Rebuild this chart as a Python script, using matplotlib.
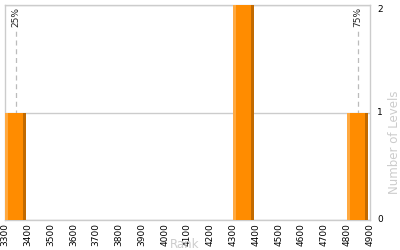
import matplotlib
matplotlib.use("Agg")
import matplotlib.pyplot as plt

bin_starts = [3300, 4300, 4800]
counts = [1, 2, 1]
percentile_labels = ["25%", "75%"]
percentile_values = [3348, 4848]
x_ticks = list(range(3300, 4901, 100))
y_ticks = [0, 1, 2]

fig = plt.figure(figsize=(4, 2.5), dpi=100)
ax = fig.add_axes([0.0125, 0.12, 0.9125, 0.86])

bw = 93
# main bars
ax.bar(bin_starts, counts, width=bw, align="edge", color="#FF8C00", zorder=3, linewidth=0)
# left highlight strip
ax.bar(bin_starts, counts, width=13, align="edge", color="#FFA940", zorder=4, linewidth=0)
# right shade strip
ax.bar([b + bw - 13 for b in bin_starts], counts, width=13, align="edge", color="#C26A00", zorder=4, linewidth=0)

for lab, v in zip(percentile_labels, percentile_values):
    ax.axvline(v, color="#BBBBBB", linestyle=(0, (4, 3)), linewidth=0.9, zorder=2, ymax=0.88)
    ax.text(v, 1.985, lab, rotation=90, ha="center", va="top", fontsize=6.5, color="#222222", zorder=5)

ax.set_xlim(3300, 4900)
ax.set_ylim(0, 2)
ax.set_xticks(x_ticks)
ax.set_xticklabels([str(t) for t in x_ticks], rotation=90, fontsize=6.5)
ax.set_yticks(y_ticks)
ax.set_yticklabels([str(t) for t in y_ticks], fontsize=6.5)
ax.yaxis.tick_right()
ax.tick_params(axis="both", length=0, pad=2)
ax.tick_params(axis="y", pad=5)
ylabels = ax.get_yticklabels()
for lbl in ylabels:
    lbl.set_verticalalignment("center")
ylabels[-1].set_verticalalignment("top")
ax.grid(axis="y", color="#CCCCCC", linewidth=1, zorder=1)
for s in ax.spines.values():
    s.set_color("#CCCCCC")
    s.set_linewidth(1)

fig.text(0.4625, -0.005, "Rank", ha="center", va="bottom", fontsize=8.5, color="#CCCCCC")
fig.text(0.985, 0.43, "Number of Levels", ha="center", va="center", rotation=90, fontsize=8.5, color="#CCCCCC")

fig.savefig("out.png", dpi=100)
